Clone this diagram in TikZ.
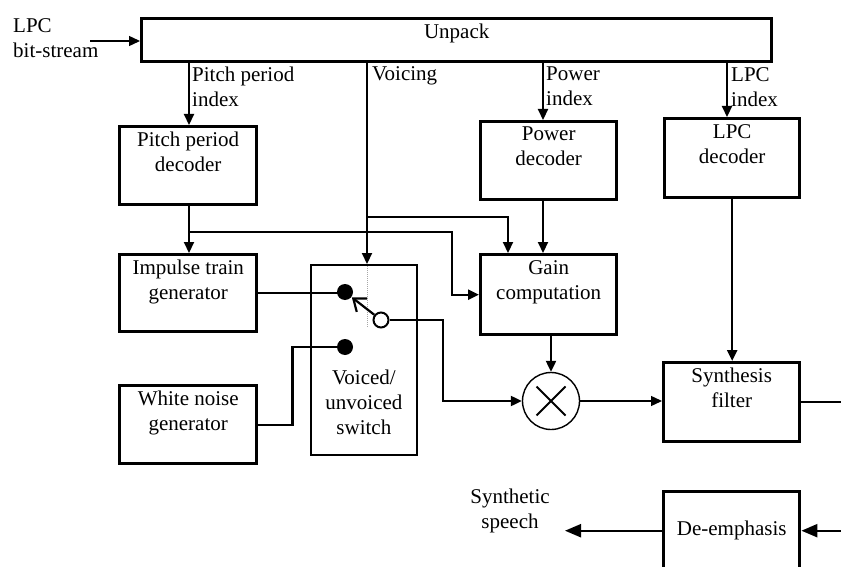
\documentclass[tikz,border=0pt]{standalone}
\usepackage{fontspec}
\setmainfont{Liberation Serif}
\usetikzlibrary{arrows.meta}
\begin{document}
\begin{tikzpicture}[x=1pt,y=-1pt,
        font=\fontsize{21}{25}\selectfont,
        box/.style={draw,line width=3.4pt,minimum width=137pt,minimum height=78pt,
            anchor=north west,inner sep=0pt,align=center},
        txt/.style={anchor=north,align=center,inner sep=0pt,label distance=-7pt},
        lbl/.style={anchor=north west,align=left,inner sep=1pt},
        conn/.style={line width=2.2pt},
        arr/.style={conn,-{Triangle[length=11pt,width=10pt]}},
        bigarr/.style={conn,-{Triangle[length=16pt,width=13pt]}},
        dot/.style={circle,fill,inner sep=0pt,minimum size=16pt}]
    \useasboundingbox (0,0) rectangle (841,567);
    % blocks
    \node[box,minimum width=630pt,minimum height=43pt,label={[txt]north:Unpack}] (unpack) at (140,17) {};
    \node[box,label={[txt]north:Pitch period\\decoder}] (ppdec) at (118,125) {};
    \node[box,minimum width=136pt,label={[txt]north:Power\\decoder}] (powdec) at (479,120) {};
    \node[box,minimum width=135pt,minimum height=79pt,label={[txt]north:LPC\\decoder}] (lpcdec) at (663,117) {};
    \node[box,minimum height=77pt,label={[txt]north:Impulse train\\generator}] (impulse) at (118,253) {};
    \node[box,label={[txt]north:White noise\\generator}] (noise) at (118,384) {};
    \node[box,minimum width=136pt,minimum height=80pt,label={[txt]north:Gain\\computation}] (gain) at (479,253) {};
    \node[box,minimum width=136pt,minimum height=79pt,label={[txt]north:Synthesis\\filter}] (synth) at (662,361) {};
    \node[box,minimum width=136pt] (demph) at (662,490) {De-emphasis};
    \node[box,line width=1.8pt,minimum width=106pt,minimum height=190pt,
        label={[txt,anchor=south,label distance=-21pt]south:Voiced/\\unvoiced\\switch}] (switch) at (310,264) {};
    \node[circle,draw,line width=1.4pt,minimum size=57pt,inner sep=0pt] (mult) at (551,401) {};
    \draw[line width=1.8pt] ([shift={(-14.5,-14.5)}]mult.center) -- ([shift={(14.5,14.5)}]mult.center)
        ([shift={(-14.5,14.5)}]mult.center) -- ([shift={(14.5,-14.5)}]mult.center);
    % switch contacts
    \node[dot] (dota) at (345,292) {};
    \node[dot] (dotb) at (345,347) {};
    \node[circle,draw,fill=white,line width=2pt,inner sep=0pt,minimum size=15pt] (open) at (381,320) {};
    \draw[gray!70,densely dotted,line width=1pt] (367,266) -- (367,328);
    % labels
    \node[lbl] (bitlbl) at (12,17) {LPC\\bit-stream};
    \node[lbl] (pplbl) at (191,66) {Pitch period\\index};
    \node[lbl] (vlbl) at (371,65) {Voicing};
    \node[lbl] (powlbl) at (545,66) {Power\\index};
    \node[lbl] (lpclbl) at (730,66) {LPC\\index};
    \node[align=center,inner sep=0pt] (speechlbl) at (510,511) {Synthetic\\speech};
    % coordinates
    \coordinate (bits) at (90,41);
    \coordinate (ppx) at (189,0);
    \coordinate (powx) at (543,0);
    \coordinate (lpcx) at (727,0);
    \coordinate (vc) at (367,217);
    \coordinate (pc) at (189,232);
    \coordinate (turn) at (443,320);
    \coordinate (speech) at (565,529);
    \coordinate (edge) at (841,0);
    % connectors
    \draw[arr,line width=1.4pt] (bits) -- (bits -| unpack.west);
    \draw[arr] (unpack.south -| ppx) -- (ppx |- ppdec.north);
    \draw[arr] (vc |- unpack.south) -- (vc |- switch.north);
    \draw[arr] (vc) -| ([xshift=29pt]gain.north west);
    \draw[arr] (unpack.south -| powx) -- (powx |- powdec.north);
    \draw[arr] (powx |- powdec.south) -- (powx |- gain.north);
    \draw[arr] (unpack.south -| lpcx) -- (lpcx |- lpcdec.north);
    \draw[arr] (lpcdec.south) -- (lpcdec.south |- synth.north);
    \draw[arr] (ppx |- ppdec.south) -- (ppx |- impulse.north);
    \draw[arr] (pc) -| ([xshift=-27pt]gain.west) -- (gain.west);
    \draw[conn] (impulse.east) -- (impulse.east -| dota);
    \draw[conn] (noise.east) -- ++(34,0) |- (dotb);
    \draw[line width=2.2pt,-{Straight Barb[length=11pt,width=17pt]},shorten >=0.5pt] (open) -- (dota);
    \draw[arr] (open) -- (turn) |- (mult.west);
    \draw[arr] (gain.south -| mult.north) -- (mult.north);
    \draw[arr,line width=1.4pt] (mult.east) -- (mult.east -| synth.west);
    \draw[conn] (synth.east) -- (synth.east -| edge);
    \draw[bigarr] (demph.east -| edge) -- (demph.east);
    \draw[bigarr] (demph.west) -- (demph.west -| speech);
\end{tikzpicture}
\end{document}
